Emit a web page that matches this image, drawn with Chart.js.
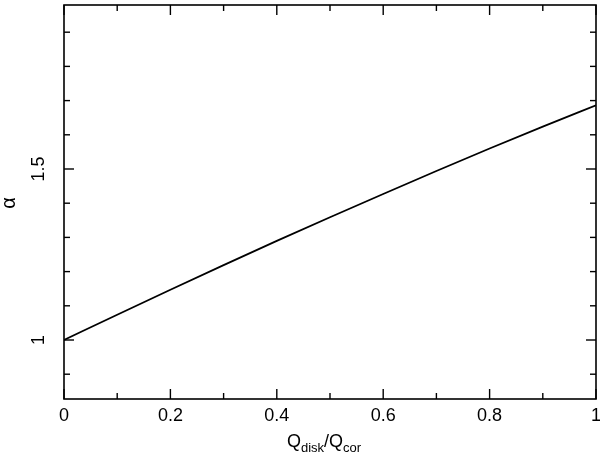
<!DOCTYPE html>
<html>
<head>
<meta charset="utf-8">
<script src="https://cdn.jsdelivr.net/npm/chart.js@4"></script>
<style>
html,body{margin:0;padding:0;background:#fff;}
canvas{display:block;}
</style>
</head>
<body>
<canvas id="c" width="600" height="454"></canvas>
<script>
// ---- data ----
const xValues = [0, 0.1, 0.2, 0.3, 0.4, 0.5, 0.6, 0.7, 0.8, 0.9, 1.0];
const alphaValues = [1.000, 1.074, 1.147, 1.219, 1.290, 1.359, 1.427, 1.494, 1.560, 1.624, 1.686];
const xMajorTicks = [0, 0.2, 0.4, 0.6, 0.8, 1];
const xMinorTicks = [0.1, 0.3, 0.5, 0.7, 0.9];
const yMajorTicks = [1, 1.5];
const yMinorTicks = [0.9, 1.1, 1.2, 1.3, 1.4, 1.6, 1.7, 1.8, 1.9];
const yTickLabels = ['1', '1.5'];
const xTitleParts = [['Q', false], ['disk', true], ['/Q', false], ['cor', true]];
const yTitle = 'α';

const FONT = '"Liberation Sans", Arial, Helvetica, sans-serif';
Chart.defaults.font.family = FONT;

const framePlugin = {
  id: 'frame',
  afterDatasetsDraw(chart) {
    const {ctx, chartArea: a, scales: {x, y}} = chart;
    ctx.save();
    ctx.strokeStyle = '#000';
    ctx.lineWidth = 1.6;
    ctx.strokeRect(a.left, a.top, a.right - a.left, a.bottom - a.top);
    ctx.lineWidth = 1.4;
    const seg = (x1, y1, x2, y2) => { ctx.beginPath(); ctx.moveTo(x1, y1); ctx.lineTo(x2, y2); ctx.stroke(); };
    const xt = (v, len) => { const p = x.getPixelForValue(v); seg(p, a.bottom, p, a.bottom - len); seg(p, a.top, p, a.top + len); };
    const yt = (v, len) => { const p = y.getPixelForValue(v); seg(a.left, p, a.left + len, p); seg(a.right, p, a.right - len, p); };
    xMajorTicks.forEach(v => xt(v, 10));
    xMinorTicks.forEach(v => xt(v, 6));
    yMajorTicks.forEach(v => yt(v, 10));
    yMinorTicks.forEach(v => yt(v, 6));

    // y tick labels (rotated)
    ctx.fillStyle = '#000';
    ctx.font = '18px ' + FONT;
    ctx.textAlign = 'center';
    ctx.textBaseline = 'middle';
    yMajorTicks.forEach((v, i) => {
      const p = y.getPixelForValue(v);
      ctx.save();
      ctx.translate(39.5, p);
      ctx.rotate(-Math.PI / 2);
      ctx.fillText(yTickLabels[i], 0, 0);
      ctx.restore();
    });

    // y title
    ctx.save();
    ctx.font = '20px ' + FONT;
    ctx.translate(9, (a.top + a.bottom) / 2 + 1);
    ctx.rotate(-Math.PI / 2);
    ctx.fillText(yTitle, 0, 0);
    ctx.restore();

    // x title with subscripts
    ctx.textAlign = 'left';
    ctx.textBaseline = 'alphabetic';
    let widths = xTitleParts.map(([t, sub]) => { ctx.font = (sub ? '13px ' : '18px ') + FONT; return ctx.measureText(t).width; });
    const total = widths.reduce((s, w) => s + w, 0);
    let cx = 324 - total / 2;
    xTitleParts.forEach(([t, sub], i) => {
      ctx.font = (sub ? '13px ' : '18px ') + FONT;
      ctx.fillText(t, cx, sub ? 451.5 : 446.5);
      cx += widths[i];
    });
    ctx.restore();
  }
};

new Chart(document.getElementById('c'), {
  type: 'line',
  data: {
    datasets: [{
      data: xValues.map((v, i) => ({x: v, y: alphaValues[i]})),
      borderColor: '#000',
      borderWidth: 1.8,
      pointRadius: 0,
      cubicInterpolationMode: 'monotone',
      fill: false
    }]
  },
  options: {
    responsive: false,
    animation: false,
    layout: {padding: {left: 0, right: 4, top: 5, bottom: 0}},
    plugins: {legend: {display: false}, tooltip: {enabled: false}},
    scales: {
      x: {
        type: 'linear',
        min: 0, max: 1,
        grid: {display: false, drawTicks: false},
        border: {display: false},
        afterBuildTicks: s => { s.ticks = xMajorTicks.map(v => ({value: v})); },
        afterFit: s => { s.height = 55; s.paddingRight = 0; s.paddingLeft = 0; },
        ticks: {
          color: '#000',
          font: {size: 18},
          padding: 6,
          maxRotation: 0,
          callback: v => String(Math.round(v * 10) / 10)
        }
      },
      y: {
        type: 'linear',
        min: 0.8275, max: 1.9795,
        grid: {display: false, drawTicks: false},
        border: {display: false},
        afterBuildTicks: s => { s.ticks = yMajorTicks.map(v => ({value: v})); },
        afterFit: s => { s.width = 64; s.paddingTop = 0; s.paddingBottom = 0; },
        ticks: {display: false}
      }
    }
  },
  plugins: [framePlugin]
});
</script>
</body>
</html>
